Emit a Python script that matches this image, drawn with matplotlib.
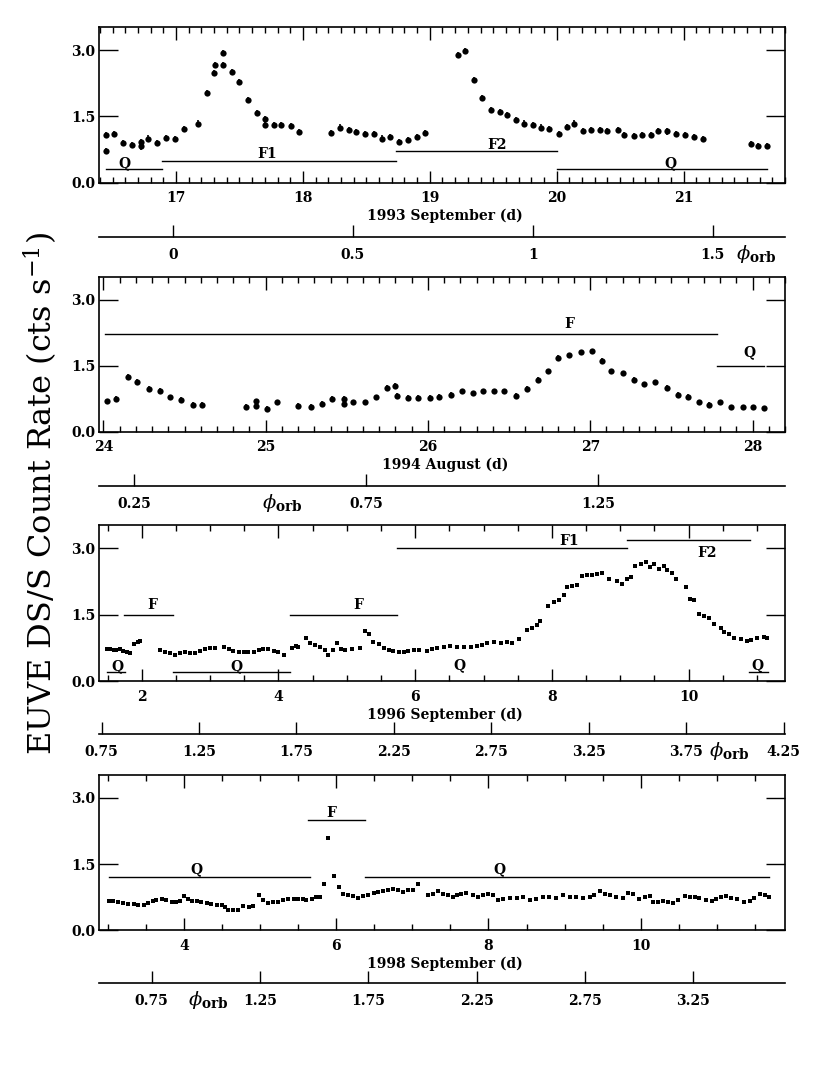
import matplotlib.pyplot as plt
from matplotlib.ticker import MultipleLocator

plt.rcParams['font.family'] = ['DejaVu Serif']
plt.rcParams['mathtext.fontset'] = 'dejavuserif'

# 1993 September
t93 = [16.45, 16.45, 16.51, 16.58, 16.65, 16.72, 16.72, 16.78, 16.85, 16.92,
       16.99, 17.06, 17.17, 17.24, 17.30, 17.31, 17.37, 17.37, 17.44, 17.50,
       17.57, 17.64, 17.70, 17.70, 17.77, 17.83, 17.91, 17.97, 18.22, 18.29,
       18.36, 18.42, 18.49, 18.56, 18.62, 18.69, 18.76, 18.83, 18.90, 18.96,
       19.22, 19.28, 19.35, 19.41, 19.48, 19.55, 19.61, 19.68, 19.74, 19.81,
       19.88, 19.94, 20.02, 20.08, 20.14, 20.21, 20.27, 20.34, 20.40, 20.48,
       20.53, 20.61, 20.67, 20.74, 20.80, 20.87, 20.94, 21.01, 21.08, 21.15,
       21.53, 21.59, 21.66]
r93 = [0.72, 1.08, 1.10, 0.90, 0.85, 0.82, 0.92, 1.00, 0.89, 1.02,
       0.99, 1.21, 1.34, 2.04, 2.49, 2.66, 2.66, 2.93, 2.51, 2.29,
       1.87, 1.57, 1.45, 1.30, 1.30, 1.30, 1.29, 1.15, 1.12, 1.25,
       1.19, 1.14, 1.10, 1.10, 1.00, 1.04, 0.93, 0.97, 1.04, 1.12,
       2.89, 2.99, 2.32, 1.91, 1.65, 1.61, 1.53, 1.42, 1.34, 1.30,
       1.25, 1.21, 1.10, 1.27, 1.34, 1.18, 1.19, 1.19, 1.18, 1.19,
       1.08, 1.06, 1.08, 1.08, 1.18, 1.16, 1.10, 1.08, 1.04, 0.99,
       0.88, 0.84, 0.84]

# 1994 August
t94 = [24.02, 24.08, 24.15, 24.21, 24.28, 24.35, 24.41, 24.48, 24.55, 24.61,
       24.88, 24.94, 24.94, 25.01, 25.07, 25.20, 25.28, 25.35, 25.41, 25.48,
       25.48, 25.54, 25.61, 25.68, 25.75, 25.80, 25.81, 25.88, 25.94, 26.01,
       26.07, 26.14, 26.21, 26.28, 26.34, 26.41, 26.47, 26.54, 26.61, 26.68,
       26.74, 26.80, 26.87, 26.94, 27.01, 27.07, 27.13, 27.20, 27.27, 27.33,
       27.40, 27.47, 27.54, 27.60, 27.67, 27.73, 27.80, 27.87, 27.94, 28.00,
       28.07]
r94 = [0.69, 0.74, 1.25, 1.13, 0.97, 0.93, 0.78, 0.72, 0.61, 0.61,
       0.56, 0.69, 0.58, 0.51, 0.66, 0.59, 0.56, 0.63, 0.74, 0.75,
       0.62, 0.66, 0.66, 0.78, 0.99, 1.04, 0.81, 0.76, 0.76, 0.76,
       0.79, 0.84, 0.91, 0.87, 0.91, 0.91, 0.91, 0.81, 0.97, 1.17,
       1.37, 1.67, 1.73, 1.80, 1.82, 1.61, 1.37, 1.32, 1.17, 1.07,
       1.12, 0.99, 0.84, 0.79, 0.66, 0.61, 0.66, 0.55, 0.55, 0.55,
       0.53]

# 1996 September
t96 = [1.49, 1.54, 1.59, 1.63, 1.68, 1.73, 1.78, 1.83, 1.89, 1.94, 1.98,
       2.27, 2.34, 2.42, 2.49, 2.56, 2.63, 2.71, 2.78, 2.85, 2.93, 3.00, 3.07,
       3.20, 3.27, 3.34, 3.42, 3.49, 3.56, 3.64, 3.71, 3.78, 3.85, 3.93, 4.00, 4.08,
       4.20, 4.25, 4.29, 4.41, 4.46, 4.54, 4.61, 4.68, 4.73, 4.80, 4.86, 4.91,
       4.98, 5.07, 5.20, 5.26, 5.32, 5.39, 5.47, 5.54, 5.61, 5.68, 5.76, 5.83,
       5.90, 5.98, 6.05,
       6.17, 6.25, 6.32, 6.42, 6.51, 6.61, 6.71, 6.81, 6.91, 6.98, 7.05, 7.15,
       7.25, 7.34, 7.42, 7.52, 7.64, 7.71, 7.78, 7.83, 7.95, 8.03, 8.10, 8.17,
       8.22, 8.30, 8.37, 8.44, 8.52, 8.59, 8.66, 8.74, 8.83, 8.95, 9.03, 9.10,
       9.15, 9.22, 9.30, 9.37, 9.44, 9.49, 9.57, 9.64, 9.69, 9.76, 9.81, 9.96,
       10.02, 10.08, 10.15, 10.22, 10.30, 10.37, 10.47, 10.52, 10.59, 10.66,
       10.76, 10.86, 10.91, 11.00, 11.10, 11.15]
r96 = [0.72, 0.73, 0.71, 0.70, 0.72, 0.68, 0.66, 0.63, 0.85, 0.89, 0.90,
       0.70, 0.66, 0.64, 0.60, 0.63, 0.66, 0.64, 0.64, 0.68, 0.72, 0.75, 0.75,
       0.77, 0.73, 0.68, 0.66, 0.66, 0.66, 0.66, 0.70, 0.73, 0.72, 0.68, 0.66, 0.59,
       0.74, 0.79, 0.77, 0.98, 0.86, 0.82, 0.78, 0.70, 0.60, 0.70, 0.87, 0.72,
       0.70, 0.72, 0.74, 1.13, 1.07, 0.88, 0.83, 0.76, 0.70, 0.68, 0.66, 0.66,
       0.68, 0.70, 0.70,
       0.68, 0.72, 0.74, 0.77, 0.80, 0.77, 0.77, 0.77, 0.79, 0.81, 0.87, 0.89,
       0.87, 0.89, 0.87, 0.96, 1.15, 1.20, 1.26, 1.35, 1.69, 1.78, 1.82, 1.95,
       2.12, 2.14, 2.16, 2.38, 2.39, 2.40, 2.42, 2.45, 2.31, 2.27, 2.19, 2.30,
       2.36, 2.60, 2.64, 2.68, 2.57, 2.64, 2.53, 2.59, 2.51, 2.45, 2.31, 2.12,
       1.86, 1.82, 1.52, 1.48, 1.42, 1.30, 1.19, 1.11, 1.07, 0.98,
       0.96, 0.90, 0.93, 0.98, 1.00, 0.98]

# 1998 September
t98 = [3.01, 3.07, 3.14, 3.20, 3.27, 3.34, 3.40, 3.47, 3.53, 3.60, 3.64, 3.71,
       3.77, 3.84, 3.90, 3.95, 4.00, 4.06, 4.10, 4.17, 4.23, 4.30, 4.36, 4.43,
       4.50, 4.54, 4.58, 4.65, 4.71, 4.78, 4.85, 4.91, 4.99, 5.04, 5.11, 5.17,
       5.24, 5.30, 5.37, 5.44, 5.50, 5.57, 5.61, 5.68, 5.74, 5.79, 5.84, 5.89,
       5.97, 6.04, 6.09, 6.16, 6.22, 6.29, 6.35, 6.42, 6.49, 6.55, 6.62, 6.68,
       6.75, 6.81, 6.88, 6.94, 7.01, 7.08, 7.21, 7.27, 7.34, 7.40, 7.47, 7.54,
       7.58, 7.64, 7.71, 7.80, 7.86, 7.93, 7.99, 8.06, 8.13, 8.19, 8.28, 8.37,
       8.45, 8.54, 8.63, 8.72, 8.80, 8.89, 8.98, 9.07, 9.15, 9.24, 9.33, 9.39,
       9.46, 9.53, 9.59, 9.68, 9.77, 9.83, 9.90, 9.98, 10.05, 10.12, 10.16,
       10.23, 10.29, 10.36, 10.42, 10.49, 10.58, 10.64, 10.71, 10.77, 10.86,
       10.93, 10.99, 11.06, 11.12, 11.19, 11.27, 11.36, 11.43, 11.49, 11.56,
       11.63, 11.69]
r98 = [0.66, 0.66, 0.64, 0.63, 0.60, 0.60, 0.58, 0.57, 0.63, 0.66, 0.68, 0.72,
       0.68, 0.64, 0.64, 0.66, 0.78, 0.70, 0.66, 0.66, 0.64, 0.63, 0.60, 0.58,
       0.57, 0.53, 0.45, 0.45, 0.45, 0.55, 0.53, 0.55, 0.79, 0.68, 0.63, 0.64,
       0.64, 0.68, 0.70, 0.72, 0.70, 0.72, 0.68, 0.72, 0.75, 0.75, 1.06, 2.09,
       1.22, 0.98, 0.83, 0.79, 0.78, 0.73, 0.78, 0.81, 0.85, 0.87, 0.88, 0.91,
       0.93, 0.91, 0.87, 0.91, 0.91, 1.06, 0.79, 0.83, 0.88, 0.83, 0.79, 0.75,
       0.81, 0.83, 0.85, 0.81, 0.75, 0.79, 0.83, 0.81, 0.68, 0.72, 0.73, 0.73,
       0.75, 0.68, 0.72, 0.75, 0.75, 0.73, 0.79, 0.75, 0.75, 0.73, 0.75, 0.79,
       0.88, 0.83, 0.79, 0.75, 0.73, 0.85, 0.83, 0.70, 0.75, 0.78, 0.64,
       0.64, 0.66, 0.64, 0.63, 0.68, 0.78, 0.75, 0.75, 0.73, 0.68,
       0.66, 0.72, 0.75, 0.78, 0.73, 0.70, 0.64, 0.66, 0.73, 0.83,
       0.79, 0.75]

# state bars: (start, end, level, label, label_x, label_y)
bars93 = [(16.45, 16.89, 0.30, 'Q', 16.59, 0.45),
          (16.89, 18.73, 0.50, 'F1', 17.72, 0.65),
          (18.73, 20.00, 0.72, 'F2', 19.53, 0.86),
          (20.00, 21.66, 0.30, 'Q', 20.90, 0.45)]
bars94 = [(24.01, 27.78, 2.22, 'F', 26.87, 2.45),
          (27.78, 28.07, 1.50, 'Q', 27.98, 1.80)]
bars96 = [(1.49, 1.76, 0.20, 'Q', 1.65, 0.35),
          (1.74, 2.45, 1.50, 'F', 2.15, 1.72),
          (2.45, 4.17, 0.20, 'Q', 3.38, 0.35),
          (4.17, 5.74, 1.50, 'F', 5.17, 1.72),
          (5.74, 9.10, 3.00, 'F1', 8.25, 3.17),
          (9.10, 10.90, 3.19, 'F2', 10.27, 2.90),
          (None, None, None, 'Q', 6.65, 0.37),
          (10.88, 11.16, 0.20, 'Q', 11.00, 0.37)]
bars98 = [(3.01, 5.65, 1.21, 'Q', 4.16, 1.38),
          (5.63, 6.38, 2.51, 'F', 5.94, 2.67),
          (6.38, 11.69, 1.21, 'Q', 8.15, 1.38)]

days93 = [17, 18, 19, 20, 21]
days94 = [24, 25, 26, 27, 28]
days96 = [2, 4, 6, 8, 10]
days98 = [4, 6, 8, 10]

phase93 = [0, 0.5, 1, 1.5]
phase94 = [0.25, 0.75, 1.25]
phase96 = [0.75, 1.25, 1.75, 2.25, 2.75, 3.25, 3.75, 4.25]
phase98 = [0.75, 1.25, 1.75, 2.25, 2.75, 3.25]

W, H = 830, 1074
fig = plt.figure(figsize=(W / 100, H / 100), dpi=100)

tick_font = dict(family='DejaVu Serif', weight='bold', size=10)

panels = [
    dict(top=27.3, bot=182.7, line=236.7, t=t93, r=r93, xlim=(16.395, 21.80),
         days=days93, minor=0.1, bars=bars93, label='1993 September (d)',
         plim=(-0.204, 1.701), ph=phase93, phi=1.62, ms=4.5, err=0.07, mk='o'),
    dict(top=276.7, bot=431.5, line=486.0, t=t94, r=r94, xlim=(23.975, 28.20),
         days=days94, minor=0.1, bars=bars94, label='1994 August (d)',
         plim=(0.175, 1.653), ph=phase94, phi=0.57, ms=4.5, err=0.06, mk='o'),
    dict(top=525.0, bot=681.3, line=734.3, t=t96, r=r96, xlim=(1.379, 11.41),
         days=days96, minor=0.5, bars=bars96, label='1996 September (d)',
         plim=(0.738, 4.257), ph=phase96, phi=3.97, ms=2.8, err=0.03, mk='s'),
    dict(top=775.0, bot=930.3, line=983.3, t=t98, r=r98, xlim=(2.889, 11.894),
         days=days98, minor=0.5, bars=bars98, label='1998 September (d)',
         plim=(0.508, 3.674), ph=phase98, phi=1.01, ms=2.8, err=0.03, mk='s'),
]

L, R = 99.3, 785.0
for p in panels:
    ax = fig.add_axes([L / W, 1 - p['bot'] / H, (R - L) / W, (p['bot'] - p['top']) / H])
    ax.errorbar(p['t'], p['r'], yerr=p['err'], fmt=p['mk'], color='black',
                ms=p['ms'], mew=0, elinewidth=1.2, capsize=0)
    for x0, x1, lev, lab, lx, ly in p['bars']:
        if x0 is not None:
            ax.plot([x0, x1], [lev, lev], color='black', lw=1.0)
        ax.text(lx, ly, lab, ha='center', va='center', **tick_font)
    ax.set_xlim(*p['xlim'])
    ax.set_ylim(0, 3.52)
    ax.set_xticks(p['days'])
    ax.set_xticklabels([str(d) for d in p['days']], **tick_font)
    ax.xaxis.set_minor_locator(MultipleLocator(p['minor']))
    ax.set_yticks([0, 1.5, 3.0])
    ax.set_yticklabels(['0.0', '1.5', '3.0'], **tick_font)
    ax.tick_params(axis='x', which='major', direction='in', length=9, width=1,
                   top=True, pad=6)
    ax.tick_params(axis='x', which='minor', direction='in', length=4.5, width=1,
                   top=True)
    ax.tick_params(axis='y', which='major', direction='in', length=14, width=1,
                   right=True, pad=3)
    for s in ax.spines.values():
        s.set_linewidth(1.2)
    ax.text(0.504, -0.215, p['label'], transform=ax.transAxes, ha='center',
            va='center', **tick_font)

    # orbital phase axis
    pax = fig.add_axes([L / W, 1 - p['line'] / H, (R - L) / W, 0.0001])
    pax.set_xlim(*p['plim'])
    pax.set_ylim(0, 1)
    for side in ['top', 'left', 'right']:
        pax.spines[side].set_visible(False)
    pax.spines['bottom'].set_linewidth(1.2)
    pax.set_yticks([])
    pax.set_xticks(p['ph'])
    pax.set_xticklabels([('%g' % v) for v in p['ph']], **tick_font)
    pax.tick_params(axis='x', direction='in', length=9, width=1, pad=8)
    pax.patch.set_visible(False)
    fig.text((L + (p['phi'] - p['plim'][0]) / (p['plim'][1] - p['plim'][0]) * (R - L)) / W,
             1 - (p['line'] + 17) / H, r'$\phi_{\bf orb}$', ha='center', va='center',
             fontsize=14)

fig.text(0.049, 0.54, r'EUVE DS/S Count Rate (cts s$^{-1}$)', rotation=90,
         ha='center', va='center', fontsize=23, family='DejaVu Serif')

fig.savefig('out.png', dpi=100)
